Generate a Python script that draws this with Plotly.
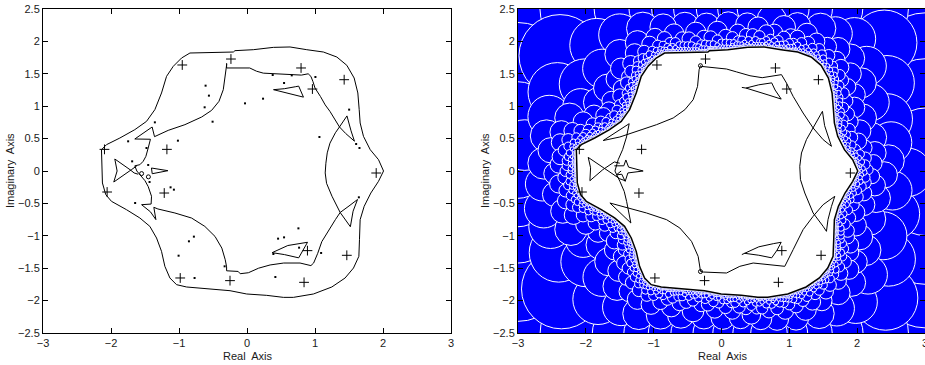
import numpy as np
import plotly.graph_objects as go

# ---------------- data ----------------
x_ticks = [-3, -2, -1, 0, 1, 2, 3]
x_tick_text = ["\u22123", "\u22122", "\u22121", "0", "1", "2", "3"]
y_ticks = [-2.5, -2, -1.5, -1, -0.5, 0, 0.5, 1, 1.5, 2, 2.5]
y_tick_text = ["\u22122.5", "\u22122", "\u22121.5", "\u22121", "\u22120.5", "0", "0.5", "1", "1.5", "2", "2.5"]

# outer boundary curve (closed)
outer_x = [-1.085, -0.962, -0.839, -0.496, -0.201, -0.177, 0.093, 0.388, 0.633, 0.879, 1.124, 1.321, 1.468,
           1.576, 1.630, 1.650, 1.664, 1.713, 1.812, 1.934, 2.008, 1.934, 1.821, 1.723, 1.664, 1.654, 1.645,
           1.566, 1.443, 1.247, 0.977, 0.682, 0.535, 0.290, -0.005, -0.250, -0.545, -0.889, -1.036, -1.134,
           -1.208, -1.257, -1.330, -1.429, -1.576, -1.772, -1.993, -2.077, -2.126, -2.140, -2.140, -2.067,
           -1.870, -1.650, -1.478, -1.355, -1.257, -1.183, -1.085]
outer_y = [1.615, 1.744, 1.821, 1.831, 1.836, 1.857, 1.872, 1.908, 1.914, 1.872, 1.836, 1.759, 1.631,
           1.435, 1.204, 0.947, 0.741, 0.535, 0.329, 0.175, 0.0, -0.159, -0.340, -0.545, -0.751, -1.060, -1.317,
           -1.497, -1.651, -1.790, -1.898, -1.950, -1.950, -1.919, -1.898, -1.847, -1.821, -1.790, -1.754, -1.651,
           -1.471, -1.240, -1.034, -0.854, -0.725, -0.597, -0.468, -0.365, -0.185, 0.123, 0.329, 0.406,
           0.509, 0.638, 0.766, 0.947, 1.204, 1.461, 1.615]

# left panel inner curves (segments separated by None)
left_inner_x = [-0.30, -0.30, 0.04, 0.14, 0.24, 0.39, 0.63, 0.80, 0.90, 0.94, 0.97, 1.00, 1.08, 1.15, 1.22, 1.30,
                1.36, 1.45, 1.58, 1.53, 1.47, 1.36, 1.30, 1.22, 1.18, 1.16, 1.15, 1.17, 1.25, 1.37, 1.52, 1.56,
                1.625, 1.50, 1.37, 1.30, 1.20, 1.10, 1.04, 0.98, 0.94, 0.78, 0.54, 0.34, 0.17, 0.02, -0.10,
                -0.13, -0.30, -0.30, -0.32, -0.37, -0.47, -0.62, -0.815, -1.06, -1.31, -1.37, -1.34, -1.42,
                -1.55, -1.41, -1.404, -1.453, -1.50, -1.55, -1.62, -1.65, -1.576, -1.527, -1.487, -1.453,
                -1.42, -1.65, -1.395, -1.36, -1.159, -0.913, -0.667, -0.520, -0.412, -0.349, -0.309, -0.299, -0.30,
                None,
                -1.944, -1.91, -1.959, -1.80, -1.70, -1.62, None,
                -1.944, -1.82, -1.72, -1.66, -1.60, None,
                -1.405, -1.163, -1.394, -1.405, None,
                0.39, 0.55, 0.71, 0.76, 0.83, 0.60, 0.39, None,
                0.37, 0.60, 0.89, 0.76, 0.55, 0.37]
left_inner_y = [1.66, 1.59, 1.59, 1.54, 1.51, 1.50, 1.49, 1.48, 1.50, 1.46, 1.38, 1.28, 1.15, 1.02, 0.92, 0.79,
                0.68, 0.58, 0.46, 0.62, 0.85, 0.68, 0.59, 0.43, 0.28, 0.12, -0.03, -0.19, -0.39, -0.64, -0.86,
                -0.62, -0.44, -0.54, -0.64, -0.75, -0.91, -1.09, -1.27, -1.42, -1.46, -1.42, -1.42, -1.45, -1.50,
                -1.57, -1.585, -1.55, -1.54, -1.48, -1.37, -1.19, -1.01, -0.855, -0.726, -0.648, -0.586, -0.56,
                -0.75, -0.63, -0.52, -0.51, -0.39, -0.24, -0.15, -0.08, 0.00, 0.08, 0.097, 0.149, 0.226, 0.355,
                0.49, 0.494, 0.679, 0.53, 0.627, 0.715, 0.833, 0.936, 1.075, 1.255, 1.511, 1.641, 1.66,
                None,
                0.185, 0.0, -0.170, -0.06, 0.02, 0.08, None,
                0.185, 0.10, 0.02, -0.03, -0.05, None,
                0.046, 0.005, -0.042, 0.046, None,
                1.255, 1.27, 1.30, 1.31, 1.14, 1.20, 1.255, None,
                -1.26, -1.15, -1.10, -1.34, -1.29, -1.26]

# right panel inner curves
right_inner_x = [-0.31, -0.33, -0.353, -0.418, -0.540, -0.712, -0.957, -1.252, -1.498, -1.744, -1.361, -1.40,
                 -1.458, -1.523, -1.571, -1.498, -1.434, -1.399, -1.336, -1.645, -1.40, -1.105, -0.810, -0.614,
                 -0.442, -0.344, -0.309, -0.27, 0.074, 0.171, 0.270, 0.467, 0.712, 0.933, 1.056, 1.203, 1.351,
                 1.498, 1.670, 1.62, 1.57, 1.547, 1.498, 1.351, 1.228, 1.164, 1.154, 1.179, 1.252, 1.351, 1.488,
                 1.52, 1.57, 1.621, 1.498, 1.351, 1.203, 1.056, 0.958, 0.884, 0.60, 0.42, 0.22, 0.074, -0.295,
                 -0.31, None,
                 -1.965, -1.93, -1.94, -1.75, -1.58, -1.50, None,
                 -1.965, -1.80, -1.65, -1.50, -1.42, None,
                 -1.58, -1.44, -1.41, -1.37, -1.155, -1.38, -1.42, -1.47, -1.55, -1.48, None,
                 0.30, 0.36, 0.55, 0.74, 0.79, 0.88, 0.70, 0.50, 0.36, None,
                 0.30, 0.34, 0.55, 0.77, 0.88, 0.82, 0.74, 0.55, 0.34]
right_inner_y = [1.625, 1.563, 1.306, 1.100, 0.946, 0.818, 0.715, 0.611, 0.525, 0.47, 0.73, 0.525,
                 0.329, 0.174, 0.0, -0.160, -0.315, -0.469, -0.803, -0.494, -0.56, -0.648, -0.751, -0.880,
                 -1.086, -1.318, -1.549, -1.559, -1.574, -1.523, -1.471, -1.420, -1.445, -1.471, -1.214, -0.905,
                 -0.699, -0.520, -0.391, -0.55, -0.75, -0.931, -0.854, -0.648, -0.340, -0.134, 0.072, 0.278,
                 0.484, 0.664, 0.921, 0.70, 0.55, 0.381, 0.484, 0.664, 0.895, 1.152, 1.358, 1.487, 1.44, 1.47,
                 1.53, 1.574, 1.614, 1.625, None,
                 0.21, 0.05, -0.15, 0.02, 0.14, 0.12, None,
                 0.21, 0.09, -0.02, -0.12, -0.15, None,
                 0.08, 0.08, 0.17, 0.06, 0.0, -0.03, -0.16, -0.05, -0.06, 0.0, None,
                 1.29, 1.28, 1.33, 1.36, 1.25, 1.11, 1.17, 1.24, 1.28, None,
                 -1.29, -1.27, -1.17, -1.12, -1.10, -1.22, -1.34, -1.30, -1.27]

# eigenvalue markers (+)
plus_x = [-0.952, -0.236, 0.795, 1.429, 0.962, -2.096, -1.178, 1.900, -2.057, -1.217, 0.889, 1.468, -0.982, -0.250, 0.839]
plus_y = [1.636, 1.728, 1.590, 1.409, 1.265, 0.334, 0.334, -0.031, -0.324, -0.340, -1.229, -1.301, -1.651, -1.692, -1.718]

# small dots (left panel)
dot_x = [-0.609, -0.560, -0.623, -0.506, -0.029, 0.236, 0.378, 0.658, 0.545, 1.006, 1.502, 1.065, 1.605, 1.654,
         -1.355, -1.748, -1.016, -1.478, -1.453, -1.433, -1.124, -1.075, -1.645, -0.781, -0.854, -1.006, -0.771,
         -0.329, 0.388, 0.457, 0.545, 0.756, 0.766, 1.090, 0.417, 1.645, -1.689]
dot_y = [1.317, 1.163, 0.983, 0.761, 1.044, 1.116, 1.481, 1.476, 1.358, 1.451, 0.947, 0.525, 0.417, 0.355,
         0.751, 0.458, 0.468, 0.355, 0.093, -0.170, -0.252, -0.288, -0.494, -1.013, -1.085, -1.307, -1.651,
         -1.471, -1.281, -1.044, -1.024, -0.885, -1.183, -1.265, -1.636, -0.406, 0.149]

# small open circles
left_ring_x = [-1.55, -1.45]
left_ring_y = [-0.04, -0.09]
right_ring_x = [-0.31, -0.31]
right_ring_y = [1.625, -1.552]

# ---------------- exclusion disks derived from the outer boundary ----------------
ox = np.array(outer_x); oy = np.array(outer_y)
ax_, ay_, bx_, by_ = ox[:-1], oy[:-1], ox[1:], oy[1:]
gx, gy = np.meshgrid(np.arange(-3.0, 3.0001, 0.02), np.arange(-2.5, 2.5001, 0.02))
px, py = gx.ravel(), gy.ravel()
sdx, sdy = bx_ - ax_, by_ - ay_
t = ((px[:, None] - ax_) * sdx + (py[:, None] - ay_) * sdy) / (sdx * sdx + sdy * sdy)
t = np.clip(t, 0, 1)
dist = np.sqrt(((ax_ + t * sdx - px[:, None]) ** 2 + (ay_ + t * sdy - py[:, None]) ** 2).min(axis=1))
inside = np.zeros(px.shape, bool)
for j in range(len(ax_)):
    if ay_[j] == by_[j]:
        continue
    cond = ((ay_[j] > py) != (by_[j] > py)) & (px < (bx_[j] - ax_[j]) * (py - ay_[j]) / (by_[j] - ay_[j]) + ax_[j])
    inside ^= cond
k_rad = 0.5
cand = np.where((~inside) & (dist >= 0.02))[0]
order = cand[np.argsort(-dist[cand], kind="stable")]
covered = np.zeros(px.shape, bool)
cx, cy, cr = [], [], []
for i in order:
    if covered[i]:
        continue
    r = k_rad * dist[i]
    cx.append(px[i]); cy.append(py[i]); cr.append(r)
    covered |= (px - px[i]) ** 2 + (py - py[i]) ** 2 < (0.9 * r) ** 2
px_per_unit = 66.3
sizes = [2 * r * px_per_unit for r in cr]

# ---------------- figure ----------------
fig = go.Figure()
L = dict(xaxis="x", yaxis="y")
R = dict(xaxis="x2", yaxis="y2")

fig.add_trace(go.Scatter(x=cx, y=cy, mode="markers", **R, hoverinfo="skip",
                         marker=dict(size=sizes, color="#0000ff", opacity=1,
                                     line=dict(color="white", width=1), symbol="circle")))

for ax in (L, R):
    fig.add_trace(go.Scatter(x=outer_x, y=outer_y, mode="lines", **ax,
                             line=dict(color="black", width=1 if ax is L else 1.5)))
fig.add_trace(go.Scatter(x=left_inner_x, y=left_inner_y, mode="lines", **L, line=dict(color="black", width=1)))
fig.add_trace(go.Scatter(x=right_inner_x, y=right_inner_y, mode="lines", **R, line=dict(color="black", width=1)))
fig.add_trace(go.Scatter(x=dot_x, y=dot_y, mode="markers", **L, marker=dict(symbol="square", size=2, color="black")))
fig.add_trace(go.Scatter(x=left_ring_x, y=left_ring_y, mode="markers", **L,
                         marker=dict(symbol="circle-open", size=4, color="black", line=dict(width=1))))
fig.add_trace(go.Scatter(x=right_ring_x, y=right_ring_y, mode="markers", **R,
                         marker=dict(symbol="circle-open", size=4, color="black", line=dict(width=1))))
for ax in (L, R):
    fig.add_trace(go.Scatter(x=plus_x, y=plus_y, mode="markers", **ax,
                             marker=dict(symbol="cross-thin", size=7, line=dict(color="black", width=1))))

font = dict(family="Liberation Sans, Arial, sans-serif", size=11, color="#1a1a1a")
common = dict(showgrid=False, zeroline=False, showline=True, linecolor="black", linewidth=1, mirror="ticks",
              ticks="inside", ticklen=5, tickcolor="black", tickfont=font, automargin=False)
ydom = [32 / 365, 356 / 365]
fig.update_layout(
    width=925, height=365, margin=dict(l=0, r=0, t=0, b=0),
    paper_bgcolor="white", plot_bgcolor="white", showlegend=False,
    xaxis=dict(domain=[43 / 925, 451 / 925], range=[-3, 3], tickvals=x_ticks, ticktext=x_tick_text, anchor="y", **common),
    yaxis=dict(domain=ydom, range=[-2.5, 2.5], tickvals=y_ticks, ticktext=y_tick_text, anchor="x", **common),
    xaxis2=dict(domain=[518 / 925, 1.0], range=[-3, 3], tickvals=x_ticks, ticktext=x_tick_text, anchor="y2",
                ticklabeloverflow="allow", **common),
    yaxis2=dict(domain=ydom, range=[-2.5, 2.5], tickvals=y_ticks, ticktext=y_tick_text, anchor="x2", **common),
    annotations=[
        dict(text="Real  Axis", x=247 / 925, y=(365 - 356) / 365, xref="paper", yref="paper", showarrow=False,
             xanchor="center", yanchor="middle", font=font),
        dict(text="Real  Axis", x=722 / 925, y=(365 - 356) / 365, xref="paper", yref="paper", showarrow=False,
             xanchor="center", yanchor="middle", font=font),
        dict(text="Imaginary  Axis", x=10 / 925, y=(365 - 171) / 365, xref="paper", yref="paper", showarrow=False,
             xanchor="center", yanchor="middle", textangle=-90, font=font),
        dict(text="Imaginary  Axis", x=485 / 925, y=(365 - 171) / 365, xref="paper", yref="paper", showarrow=False,
             xanchor="center", yanchor="middle", textangle=-90, font=font),
    ],
)
fig.write_html("out.html", config={"displayModeBar": False},
               post_script="document.body.style.margin='0';document.body.style.overflow='hidden';")
